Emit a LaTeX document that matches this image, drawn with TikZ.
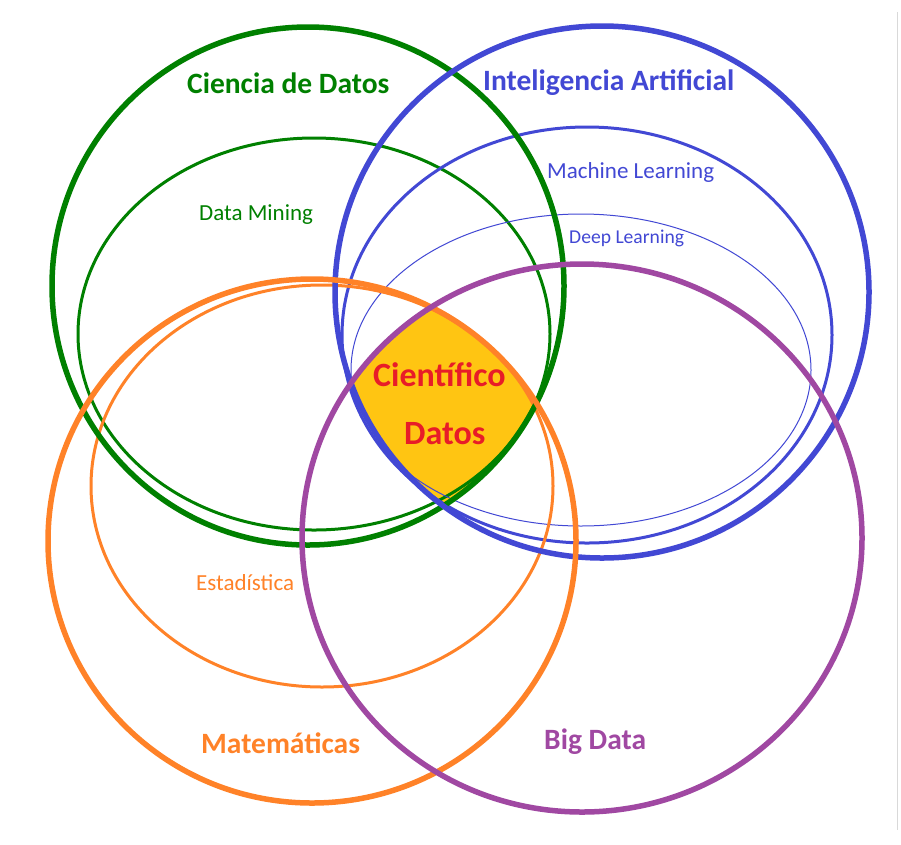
\documentclass[tikz,border=0pt]{standalone}
\usepackage{fontspec}
\setmainfont{Carlito}
\definecolor{cdgreen}{RGB}{0,128,0}
\definecolor{iablue}{RGB}{66,72,212}
\definecolor{matorange}{RGB}{255,130,40}
\definecolor{bdpurple}{RGB}{160,72,162}
\definecolor{coreyellow}{RGB}{255,197,18}
\definecolor{corered}{RGB}{232,28,40}
\tikzset{
  bigring/.style={line width=5.5pt},
  subring/.style={line width=3pt},
  thinring/.style={line width=1pt},
  title/.style={font=\bfseries\fontsize{29.5}{32}\selectfont, inner sep=0pt, anchor=base west},
  sublabel/.style={font=\fontsize{23}{26}\selectfont, inner sep=0pt, anchor=base west},
  corelabel/.style={font=\bfseries\fontsize{34}{36}\selectfont, inner sep=0pt, anchor=base west, text=corered},
}
\begin{document}
\begin{tikzpicture}[x=1pt, y=-1pt]
  \fill[white] (0,0) rectangle (901,844);
  \useasboundingbox (0,0) rectangle (901,844);

  % common core: inside all four main fields
  \begin{scope}
    \clip (308,286) ellipse [x radius=256pt, y radius=259pt];
    \clip (602,292) ellipse [x radius=267pt, y radius=266pt];
    \clip (312,541) ellipse [x radius=264pt, y radius=262pt];
    \fill[coreyellow] (582,538) ellipse [x radius=280pt, y radius=274pt];
  \end{scope}

  % sub-fields
  \draw[cdgreen, subring] (314,334) ellipse [x radius=236pt, y radius=196pt];
  \draw[iablue, subring] (587,335) ellipse [x radius=245pt, y radius=208pt];
  \draw[iablue, thinring] (581,370) ellipse [x radius=230pt, y radius=156pt];
  \draw[matorange, subring] (322,486) ellipse [x radius=231pt, y radius=201pt];

  % main fields
  \draw[cdgreen, bigring] (308,286) ellipse [x radius=256pt, y radius=259pt];
  \draw[iablue, bigring] (602,292) ellipse [x radius=267pt, y radius=266pt];
  \draw[matorange, bigring] (312,541) ellipse [x radius=264pt, y radius=262pt];
  \draw[bdpurple, bigring] (582,538) ellipse [x radius=280pt, y radius=274pt];

  % frame edge on the right
  \draw[black!15, line width=1pt] (897,12) -- (897,830);

  % labels
  \node[title, text=cdgreen] (cd) at (187,93) {Ciencia de Datos};
  \node[title, text=iablue] (ia) at (483,90) {Inteligencia Artificial};
  \node[title, text=matorange] (mat) at (201,753) {Matemáticas};
  \node[title, text=bdpurple] (bd) at (544,749) {Big Data};
  \node[sublabel, text=iablue] (ml) at (547,178) {Machine Learning};
  \node[sublabel, text=cdgreen] (dm) at (199,220) {Data Mining};
  \node[sublabel, text=matorange] (est) at (196,590) {Estadística};
  \node[sublabel, text=iablue, font=\fontsize{19.6}{22}\selectfont] (dl) at (569,243) {Deep Learning};
  \node[corelabel] (cient) at (373,386) {Científico};
  \node[corelabel] (datos) at (404,444) {Datos};
\end{tikzpicture}
\end{document}
